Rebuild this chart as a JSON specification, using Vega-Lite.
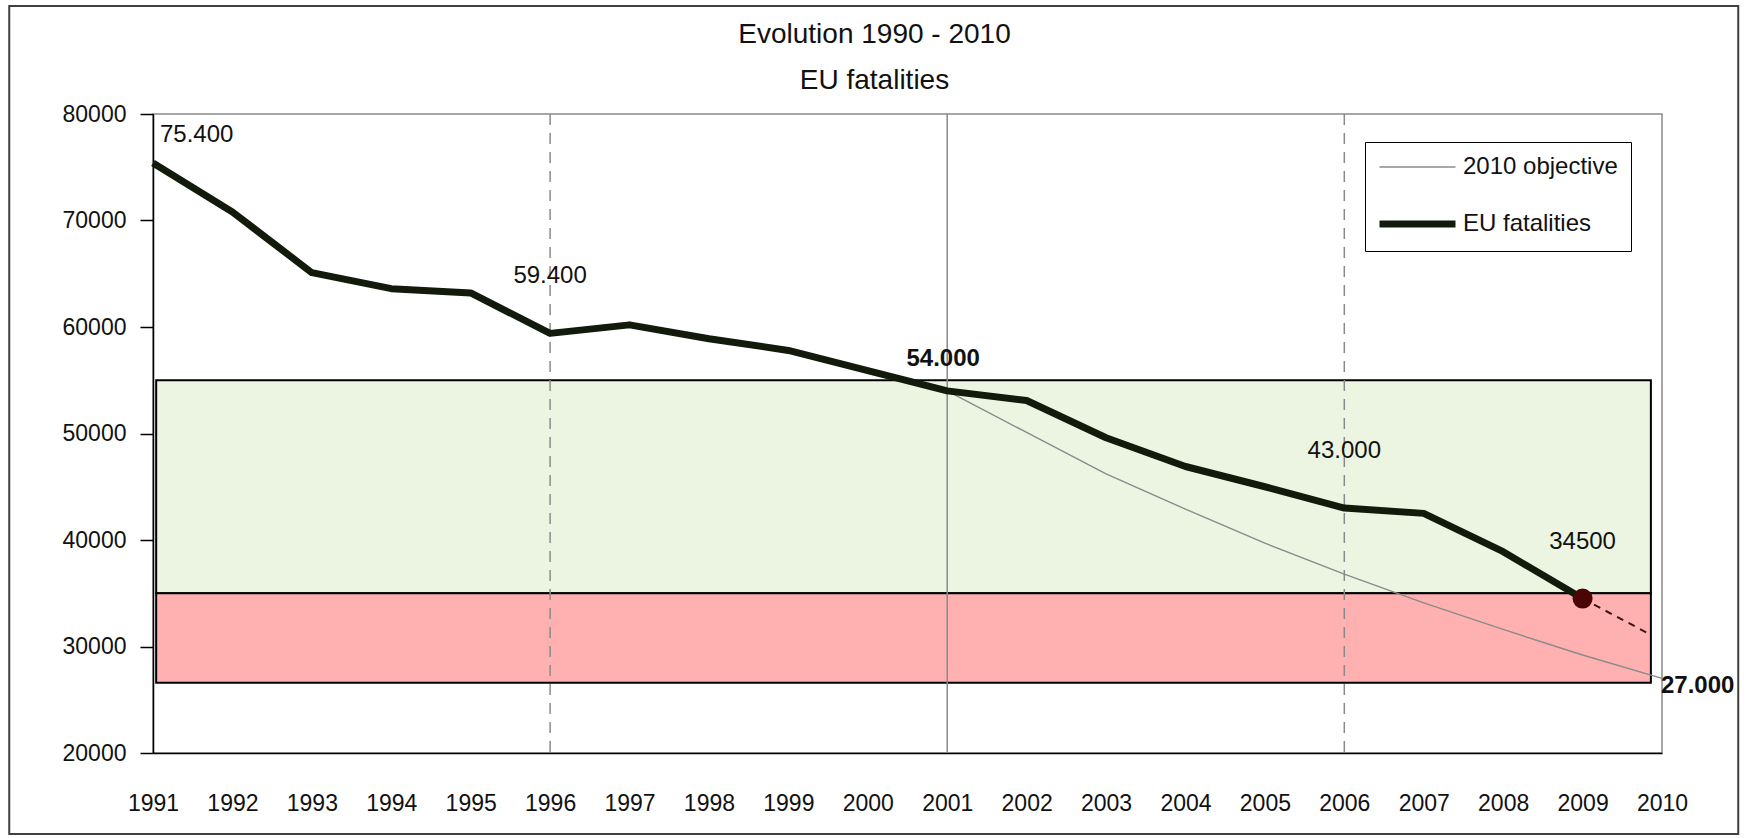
{
  "$schema": "https://vega.github.io/schema/vega-lite/v6.json",
  "width": 1509,
  "height": 639,
  "autosize": "none",
  "padding": {"left": 153, "top": 114, "right": 84, "bottom": 85},
  "background": "white",
  "title": {
    "text": ["Evolution 1990 - 2010", "EU fatalities"],
    "fontSize": 28,
    "fontWeight": "normal",
    "color": "#111111",
    "anchor": "middle",
    "dx": -33,
    "offset": -112,
    "baseline": "alphabetic",
    "lineHeight": 46
  },
  "layer": [
    {
      "data": {"values": [{"x1": 1989.19, "x2": 2010.96, "y1": 90140, "y2": 12390}]},
      "mark": {"type": "rect", "fill": "transparent", "stroke": "#404040", "strokeWidth": 2},
      "encoding": {
        "x": {"field": "x1", "type": "quantitative", "scale": {"domain": [1991, 2010], "nice": false, "zero": false}, "title": null},
        "x2": {"field": "x2"},
        "y": {"field": "y1", "type": "quantitative", "scale": {"domain": [20000, 80000], "nice": false, "zero": false}, "title": null},
        "y2": {"field": "y2"}
      }
    },
    {
      "data": {"values": [{"x1": 1991.04, "x2": 2009.86, "lo": 35000, "hi": 55000}]},
      "mark": {"type": "rect", "fill": "#ecf5e2", "stroke": "#000000", "strokeWidth": 2},
      "encoding": {
        "x": {"field": "x1", "type": "quantitative", "title": null},
        "x2": {"field": "x2"},
        "y": {"field": "lo", "type": "quantitative", "title": null},
        "y2": {"field": "hi"}
      }
    },
    {
      "data": {"values": [{"x1": 1991.04, "x2": 2009.86, "lo": 26600, "hi": 35000}]},
      "mark": {"type": "rect", "fill": "#ffb1b1", "stroke": "#000000", "strokeWidth": 2},
      "encoding": {
        "x": {"field": "x1", "type": "quantitative", "title": null},
        "x2": {"field": "x2"},
        "y": {"field": "lo", "type": "quantitative", "title": null},
        "y2": {"field": "hi"}
      }
    },
    {
      "data": {"values": [
        {"year": 1996, "kind": "dashed"},
        {"year": 2001, "kind": "solid"},
        {"year": 2006, "kind": "dashed"}
      ]},
      "mark": {"type": "rule", "color": "#8a8a8a", "strokeWidth": 1.5},
      "encoding": {
        "x": {"field": "year", "type": "quantitative", "title": null},
        "strokeDash": {"field": "kind", "type": "nominal", "scale": {"domain": ["dashed", "solid"], "range": [[11, 8], [1, 0]]}, "legend": null}
      }
    },
    {
      "data": {"values": [
        {"series": "2010 objective", "year": 2001, "value": 54000},
        {"series": "2010 objective", "year": 2002, "value": 50100},
        {"series": "2010 objective", "year": 2003, "value": 46200},
        {"series": "2010 objective", "year": 2004, "value": 42900},
        {"series": "2010 objective", "year": 2005, "value": 39700},
        {"series": "2010 objective", "year": 2006, "value": 36800},
        {"series": "2010 objective", "year": 2007, "value": 34100},
        {"series": "2010 objective", "year": 2008, "value": 31600},
        {"series": "2010 objective", "year": 2009, "value": 29200},
        {"series": "2010 objective", "year": 2010, "value": 27000},
        {"series": "EU fatalities", "year": 1991, "value": 75400},
        {"series": "EU fatalities", "year": 1992, "value": 70800},
        {"series": "EU fatalities", "year": 1993, "value": 65100},
        {"series": "EU fatalities", "year": 1994, "value": 63600},
        {"series": "EU fatalities", "year": 1995, "value": 63200},
        {"series": "EU fatalities", "year": 1996, "value": 59400},
        {"series": "EU fatalities", "year": 1997, "value": 60200},
        {"series": "EU fatalities", "year": 1998, "value": 58900},
        {"series": "EU fatalities", "year": 1999, "value": 57800},
        {"series": "EU fatalities", "year": 2000, "value": 55900},
        {"series": "EU fatalities", "year": 2001, "value": 54000},
        {"series": "EU fatalities", "year": 2002, "value": 53100},
        {"series": "EU fatalities", "year": 2003, "value": 49600},
        {"series": "EU fatalities", "year": 2004, "value": 46900},
        {"series": "EU fatalities", "year": 2005, "value": 45000},
        {"series": "EU fatalities", "year": 2006, "value": 43000},
        {"series": "EU fatalities", "year": 2007, "value": 42500},
        {"series": "EU fatalities", "year": 2008, "value": 38900},
        {"series": "EU fatalities", "year": 2009, "value": 34500}
      ]},
      "mark": {"type": "line", "strokeJoin": "round", "strokeCap": "butt"},
      "encoding": {
        "x": {
          "field": "year", "type": "quantitative", "title": null,
          "axis": {
            "values": [1991, 1992, 1993, 1994, 1995, 1996, 1997, 1998, 1999, 2000, 2001, 2002, 2003, 2004, 2005, 2006, 2007, 2008, 2009, 2010],
            "format": "d", "grid": false, "ticks": false, "labelPadding": 39,
            "labelFontSize": 23, "labelColor": "#111111", "labelFlush": false,
            "domainColor": "#000000", "domainWidth": 1.5
          }
        },
        "y": {
          "field": "value", "type": "quantitative", "title": null,
          "axis": {
            "values": [20000, 30000, 40000, 50000, 60000, 70000, 80000],
            "format": "d", "grid": false, "tickSize": 13, "tickWidth": 1.5, "tickColor": "#000000",
            "labelPadding": 14, "labelFontSize": 23, "labelColor": "#111111", "labelFlush": false,
            "domainColor": "#000000", "domainWidth": 1.5
          }
        },
        "color": {
          "field": "series", "type": "nominal",
          "scale": {"domain": ["2010 objective", "EU fatalities"], "range": ["#8a8a8a", "#121a0c"]},
          "legend": {
            "title": null, "orient": "none", "legendX": 1212, "legendY": 28,
            "strokeColor": "#000000", "fillColor": "#ffffff", "padding": 13,
            "labelFontSize": 24, "labelColor": "#111111", "labelLimit": 400,
            "symbolType": "M-4,0L4,0", "symbolSize": 361,
            "rowPadding": 31, "symbolOffset": 26.5, "labelOffset": 32.5
          }
        },
        "strokeWidth": {
          "field": "series", "type": "nominal",
          "scale": {"domain": ["2010 objective", "EU fatalities"], "range": [1.4, 7]},
          "legend": {
            "title": null, "orient": "none", "legendX": 1212, "legendY": 28,
            "strokeColor": "#000000", "fillColor": "#ffffff", "padding": 13,
            "labelFontSize": 24, "labelColor": "#111111", "labelLimit": 400,
            "symbolType": "M-4,0L4,0", "symbolSize": 361,
            "rowPadding": 31, "symbolOffset": 26.5, "labelOffset": 32.5
          }
        }
      }
    },
    {
      "data": {"values": [{"year": 2009, "value": 34500}, {"year": 2009.86, "value": 31100}]},
      "mark": {"type": "line", "color": "#3b1414", "strokeWidth": 2, "strokeDash": [7, 6]},
      "encoding": {
        "x": {"field": "year", "type": "quantitative", "title": null},
        "y": {"field": "value", "type": "quantitative", "title": null}
      }
    },
    {
      "data": {"values": [{"year": 2009, "value": 34500}]},
      "mark": {"type": "point", "filled": true, "opacity": 1, "size": 400, "color": "#4a0505"},
      "encoding": {
        "x": {"field": "year", "type": "quantitative", "title": null},
        "y": {"field": "value", "type": "quantitative", "title": null}
      }
    },
    {
      "data": {"values": [
        {"year": 1996, "value": 59400, "label": "59.400"},
        {"year": 2006, "value": 43000, "label": "43.000"},
        {"year": 2009, "value": 34500, "label": "34500"}
      ]},
      "mark": {"type": "text", "align": "center", "baseline": "middle", "dy": -57, "fontSize": 24, "color": "#111111"},
      "encoding": {
        "x": {"field": "year", "type": "quantitative", "title": null},
        "y": {"field": "value", "type": "quantitative", "title": null},
        "text": {"field": "label"}
      }
    },
    {
      "data": {"values": [{"year": 1991, "value": 75400, "label": "75.400"}]},
      "mark": {"type": "text", "align": "left", "baseline": "middle", "dx": 7, "dy": -28, "fontSize": 24, "color": "#111111"},
      "encoding": {
        "x": {"field": "year", "type": "quantitative", "title": null},
        "y": {"field": "value", "type": "quantitative", "title": null},
        "text": {"field": "label"}
      }
    },
    {
      "data": {"values": [{"year": 2001, "value": 54000, "label": "54.000"}]},
      "mark": {"type": "text", "align": "center", "baseline": "middle", "dx": -4, "dy": -32, "fontSize": 24, "fontWeight": "bold", "color": "#111111"},
      "encoding": {
        "x": {"field": "year", "type": "quantitative", "title": null},
        "y": {"field": "value", "type": "quantitative", "title": null},
        "text": {"field": "label"}
      }
    },
    {
      "data": {"values": [{"year": 2010, "value": 27000, "label": "27.000"}]},
      "mark": {"type": "text", "align": "left", "baseline": "middle", "dx": -1, "dy": 8, "fontSize": 24, "fontWeight": "bold", "color": "#111111"},
      "encoding": {
        "x": {"field": "year", "type": "quantitative", "title": null},
        "y": {"field": "value", "type": "quantitative", "title": null},
        "text": {"field": "label"}
      }
    }
  ],
  "config": {
    "font": "Liberation Sans, Arial, sans-serif",
    "view": {"stroke": "#8a8a8a", "strokeWidth": 1.5}
  }
}
